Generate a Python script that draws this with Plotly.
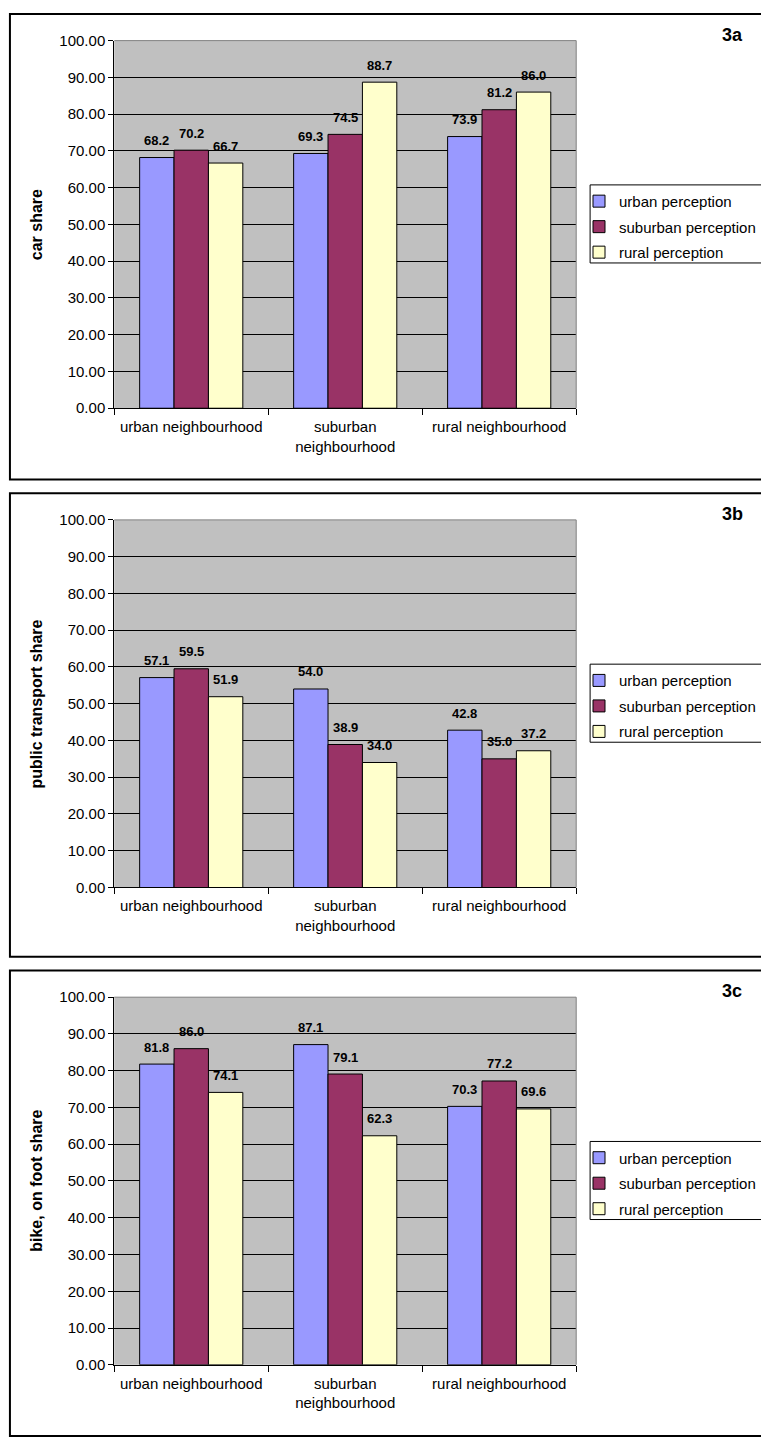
import plotly.graph_objects as go

W, H = 761, 1439

categories = ["urban neighbourhood", "suburban<br>neighbourhood", "rural neighbourhood"]
series_names = ["urban perception", "suburban perception", "rural perception"]
series_colors = ["#9999FF", "#993366", "#FFFFCC"]

# panel 3a: car share
car_urban = [68.2, 69.3, 73.9]
car_suburban = [70.2, 74.5, 81.2]
car_rural = [66.7, 88.7, 86.0]

# panel 3b: public transport share
pt_urban = [57.1, 54.0, 42.8]
pt_suburban = [59.5, 38.9, 35.0]
pt_rural = [51.9, 34.0, 37.2]

# panel 3c: bike, on foot share
bike_urban = [81.8, 87.1, 70.3]
bike_suburban = [86.0, 79.1, 77.2]
bike_rural = [74.1, 62.3, 69.6]

panel_titles = ["car share", "public transport share", "bike, on foot share"]
panel_tags = ["3a", "3b", "3c"]
panel_data = [
    [car_urban, car_suburban, car_rural],
    [pt_urban, pt_suburban, pt_rural],
    [bike_urban, bike_suburban, bike_rural],
]

y_tickvals = [0, 10, 20, 30, 40, 50, 60, 70, 80, 90, 100]

FONT = "Arial, Liberation Sans, sans-serif"

# layout geometry (pixels)
panel_tops = [5, 490, 973]
panel_heights = [471, 469, 471]
plot_left, plot_right = 115, 580
plot_top_off, plot_h = 27, 372
bargap = 0.33


def px(x):
    return x / W


def py(y):
    return 1 - y / H


fig = go.Figure()
shapes = []
annotations = []
layout = {}

cat_w = (plot_right - plot_left) / len(categories)
bar_w = cat_w * (1 - bargap) / len(series_names)

for k in range(3):
    sfx = "" if k == 0 else str(k + 1)
    xa, ya = "x" + sfx, "y" + sfx
    lg = "legend" if k == 0 else "legend" + str(k + 1)
    top = panel_tops[k]
    ptop = top + plot_top_off
    pbot = ptop + plot_h

    for i, name in enumerate(series_names):
        vals = panel_data[k][i]
        fig.add_trace(go.Bar(
            x=categories, y=vals, name=name,
            marker=dict(color=series_colors[i], line=dict(color="black", width=1)),
            xaxis=xa, yaxis=ya, legend=lg, legendgroup=f"{k}-{i}",
            showlegend=True, hoverinfo="x+y+name",
        ))
        for j, v in enumerate(vals):
            annotations.append(dict(
                x=categories[j], y=v, xref=xa, yref=ya,
                text=f"<b>{v:.1f}</b>", showarrow=False,
                xshift=(i - 1) * bar_w, yshift=17, yanchor="middle",
                font=dict(family=FONT, size=13, color="black"),
            ))

    layout["xaxis" + sfx] = dict(
        domain=[px(plot_left), px(plot_right)], anchor=ya,
        type="category", tickson="boundaries", ticks="outside", ticklen=6,
        tickcolor="black", showline=True, linecolor="black", linewidth=1,
        showgrid=False, tickfont=dict(family=FONT, size=15, color="black"),
        ticklabelstandoff=5, fixedrange=True,
    )
    layout["yaxis" + sfx] = dict(
        domain=[py(pbot), py(ptop)], anchor=xa, range=[0, 100],
        tickvals=y_tickvals, tickformat=".2f", ticks="outside", ticklen=5,
        tickcolor="black", showline=True, linecolor="black", linewidth=1,
        showgrid=True, gridcolor="black", gridwidth=1, zeroline=False,
        tickfont=dict(family=FONT, size=15, color="black"), fixedrange=True,
    )

    # outer panel border
    shapes.append(dict(type="rect", xref="paper", yref="paper",
                       x0=px(10), x1=px(775), y0=py(top + panel_heights[k]), y1=py(top),
                       line=dict(color="black", width=2), layer="below"))
    # plot area top/right border (grey)
    shapes.append(dict(type="line", xref="paper", yref="paper",
                       x0=px(plot_left), x1=px(plot_right), y0=py(ptop), y1=py(ptop),
                       line=dict(color="#808080", width=1)))
    shapes.append(dict(type="line", xref="paper", yref="paper",
                       x0=px(plot_right), x1=px(plot_right), y0=py(pbot), y1=py(ptop),
                       line=dict(color="#808080", width=1)))
    # legend box
    shapes.append(dict(type="rect", xref="paper", yref="paper",
                       x0=px(594), x1=px(775), y0=py(top + 252), y1=py(top + 173),
                       line=dict(color="black", width=1), fillcolor="white", layer="below"))

    layout[lg] = dict(
        x=px(583), y=py(top + 173), xanchor="left", yanchor="top",
        bgcolor="rgba(0,0,0,0)", borderwidth=0, tracegroupgap=3,
        font=dict(family=FONT, size=15, color="black"),
        itemclick=False, itemdoubleclick=False,
    )

    # y axis title
    annotations.append(dict(
        x=px(37), y=py(ptop + plot_h / 2), xref="paper", yref="paper",
        text=f"<b>{panel_titles[k]}</b>", textangle=-90, showarrow=False,
        xanchor="center", yanchor="middle",
        font=dict(family=FONT, size=16, color="black"),
    ))
    # panel tag
    annotations.append(dict(
        x=px(737), y=py(top + 21), xref="paper", yref="paper",
        text=f"<b>{panel_tags[k]}</b>", showarrow=False,
        xanchor="center", yanchor="middle",
        font=dict(family=FONT, size=18, color="black"),
    ))

fig.update_layout(
    width=W, height=H, margin=dict(l=0, r=0, t=0, b=0),
    paper_bgcolor="white", plot_bgcolor="#C0C0C0",
    barmode="group", bargap=bargap, bargroupgap=0,
    shapes=shapes, annotations=annotations, showlegend=True,
    **layout,
)

fig.write_html("out.html", config={"displayModeBar": False})
